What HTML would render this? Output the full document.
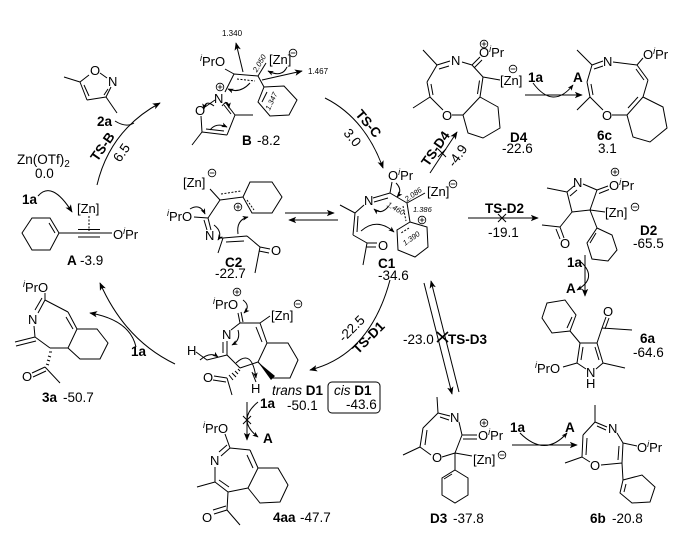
<!DOCTYPE html>
<html><head><meta charset="utf-8">
<style>
html,body{margin:0;padding:0;background:#fff;}
svg{display:block;}
text{font-family:"Liberation Sans",Arial,sans-serif;fill:#000;}
.a{font-size:13px;}
.l{font-size:13.5px;}
.b{font-size:13.5px;font-weight:bold;}
.s{font-size:8px;}
.si{font-size:7.5px;font-style:italic;}
.it{font-style:italic;}
</style></head><body>
<svg width="686" height="542" viewBox="0 0 686 542" xmlns="http://www.w3.org/2000/svg">
<defs>
<marker id="ah" viewBox="0 0 10 10" refX="9" refY="5" markerWidth="8" markerHeight="8" orient="auto" markerUnits="userSpaceOnUse"><path d="M0,1 L10,5 L0,9 L2.5,5z" fill="#000"/></marker>
<marker id="sm" viewBox="0 0 10 10" refX="9" refY="5" markerWidth="6" markerHeight="6" orient="auto" markerUnits="userSpaceOnUse"><path d="M0,1 L10,5 L0,9 L2.5,5z" fill="#000"/></marker>
<g id="pl"><circle r="3.8" fill="#fff" stroke="#000" stroke-width="0.8"/><path d="M-2.4,0H2.4M0,-2.4V2.4" stroke="#000" stroke-width="0.8"/></g>
<g id="mi"><circle r="3.8" fill="#fff" stroke="#000" stroke-width="0.8"/><path d="M-2.4,0H2.4" stroke="#000" stroke-width="0.8"/></g>
</defs>
<rect width="686" height="542" fill="#fff"/>

<g fill="none" stroke="#000" stroke-width="1">
<!-- 2a -->
<path d="M80,82 L89,75 M100,73 L107,78 M111,87 L106,97 M108,89 L104,95 M106,97 L87,100 M87,100 L80,82 M89,96 L84,85 M80,82 L64,77 M106,97 L117,113"/>
<path d="M115,121 Q126,128 134,123"/>
<path d="M97,185 Q110,130 160,103" marker-end="url(#ah)"/>
<!-- A -->
<path d="M38,196 Q52,180 72,212" marker-end="url(#ah)"/>
<path d="M89,216 L89,231" stroke-dasharray="2,1.5"/>
<path d="M22,233 L32,218 L50,218 L59,233 L50,250 L32,250 Z M49,223 L55,233 M59,233 L112,233 M78,229.5 L100,229.5 M78,237 L100,237"/>
<!-- 3a -->
<path d="M45,293 L45,300 M45,300 L38,313 M42,298 L35,310 M45,300 L68,312 M68,312 L77,329 M66,317 L73,329 M34,326 L35,337 M35,337 L15,342 M36,341 L16,346 M35,337 L50,348 M50,348 L68,348 M77,329 L97,329 L108,343 L100,359 L80,359 L68,348 L77,329 M45,367 L32,373 M46,371 L33,377 M45,367 L60,383"/>
<path d="M49,352 L52,352 M48,356 L51,357 M47,360 L50,361 M46,364 L49,365" stroke-width="1"/>
<path d="M175,364 Q125,340 100,283" marker-end="url(#ah)"/>
<path d="M136,347 Q130,320 90,313" marker-end="url(#ah)"/>
<!-- B -->
<path d="M243,72 L236,43" marker-end="url(#ah)"/>
<path d="M225,69 L234,74 M234,74 L258,76 M258,76 L266,63 M234,74 L225,92 M215,100 L205,107 M201,116 L202,132 M202,132 L227,135 M206,129 L224,131 M227,135 L235,115 M235,115 L225,102 M231,114 L224,105 M235,115 L253,115 M202,132 L192,145 M258,76 L264,87"/>
<path d="M237,79 L255,81" stroke-dasharray="2,1.5"/>
<path d="M262,80 L302,71" marker-end="url(#ah)"/>
<path d="M264,87 L284,86 L297,100 L289,115 L270,116 L258,102 Z M267,92 L262,102"/>
<path d="M287,67 Q282,78 268,71" marker-end="url(#sm)"/>
<path d="M250,83 Q240,94 228,89" marker-end="url(#sm)"/>
<path d="M214,106 Q205,99 204,109" marker-end="url(#sm)"/>
<path d="M210,130 Q216,122 227,127" marker-end="url(#sm)"/>
<path d="M222,106 Q228,98 229,108" marker-end="url(#sm)"/>
<!-- TS-C -->
<path d="M325,98 Q365,118 383,168" marker-end="url(#ah)"/>
<!-- D4 -->
<path d="M462,62 L472,65 M472,65 L480,57 M474.5,67.5 L482,60 M472,65 L483,77 M483,77 L500,80 M483,77 L480,97 M479.5,80.5 L477.5,94 M480,97 L463,115 M463,115 L452,115 M443,110 L430,97 M430,97 L413,108 M430,97 L427,82 M433,95 L431,84 M427,82 L437,65 M437,65 L450,61 M439,69 L449,66 M437,65 L423,50 M480,97 L498,107 L500,128 L483,138 L468,133 L463,115"/>
<path d="M525,95 L582,95" marker-end="url(#ah)"/>
<path d="M533,83 Q553,110 573,85" marker-end="url(#sm)"/>
<!-- 6c -->
<path d="M577,50 L592,65 M592,65 L603,61 M594,69 L603,66 M613,62 L637,65 M637,65 L643,58 M637,65 L648,80 M636,69 L644,80 M648,80 L643,97 M643,97 L627,115 M638,97 L628,108 M627,115 L612,115 M603,110 L590,97 M590,97 L577,110 M590,97 L587,82 M593,95 L591,84 M587,82 L592,65 M643,97 L663,107 L667,128 L650,142 L633,137 L627,115"/>
<!-- TS-D4 -->
<path d="M430,173 L457,132" marker-end="url(#ah)"/>
<path d="M438,149 L446,157 M446,149 L438,157"/>
<!-- C2 -->
<path d="M210,189 L220,200 M194,217 L208,218 M208,218 L220,200 M220,200 L243,197 M243,197 L250,182 L272,182 L282,197 L272,213 L252,213 Z M208,218 L211,230 M204,220 L207,230 M218,238 L223,238 M223,238 L218,253 M223,238 L247,236 M226,242 L244,241 M247,236 L260,247 M260,247 L270,249 M259,251 L269,253 M260,247 L255,273"/>
<path d="M221,194 L241,191 M247,200 L254,210" stroke-dasharray="2,1.5"/>
<path d="M190,209 Q200,203 205,214" marker-end="url(#sm)"/>
<path d="M214,225 Q223,232 218,240" marker-end="url(#sm)"/>
<path d="M238,234 Q236,220 248,217" marker-end="url(#sm)"/>
<path d="M285,213 L334,213" marker-end="url(#ah)"/>
<path d="M338,220 L289,220" marker-end="url(#ah)"/>
<!-- C1 -->
<path d="M392,182 L390,193 M373,198 L390,193 M374,202 L388,198 M390,193 L407,203 M407,203 L425,193 M407,203 L410,222 M410,222 L427,227 L428,247 L415,257 L398,250 L397,230 Z M364,205 L355,213 M340,205 L355,213 M355,213 L353,235 M358,216 L357,232 M353,235 L367,243 M367,243 L377,243 M366,247 L376,247 M367,243 L363,265"/>
<path d="M403,206 L406,221 M409,228 L401,233" stroke-dasharray="2,1.5"/>
<path d="M396,183 Q403,190 397,197" marker-end="url(#sm)"/>
<path d="M388,207 Q381,215 374,209" marker-end="url(#sm)"/>
<path d="M361,231 Q377,217 394,232" marker-end="url(#sm)"/>
<!-- TS-D2 -->
<path d="M468,218 L538,218" marker-end="url(#ah)"/>
<path d="M498,214 L506,222 M506,214 L498,222"/>
<!-- D2 -->
<path d="M567,192 L547,188 M567,192 L574,186 M570,196 L577,190 M583,184 L597,190 M597,190 L608,186 M599,193.5 L609,189.5 M597,190 L590,210 M590,210 L572,212 M572,212 L567,192 M590,210 L605,212 M572,212 L560,227 M560,227 L542,225 M560,227 L564,238 M556,229 L560,239 M590,210 L597,228 M597,228 L612,235 L617,250 L608,261 L592,259 L587,243 Z M596,233 L590,243"/>
<path d="M585,255 L585,296" marker-end="url(#ah)"/>
<path d="M581,262 Q598,278 577,290" marker-end="url(#sm)"/>
<!-- 6a -->
<path d="M547,303 L565,300 L576,315 L570,331 L552,333 L542,318 Z M572,317 L567,328 M570,331 L580,343 M580,343 L597,343 M597,343 L603,363 M603,363 L596,369 M586,369 L577,363 M577,363 L580,343 M583,347 L581,360 M595,347 L599,360 M597,343 L602,328 M602,328 L606,317 M605,329 L609,318 M602,328 L632,330 M603,363 L625,368 M563,367 L577,363"/>
<!-- D1 -->
<path d="M240,323 L238,313 M243,322 L241,312 M240,323 L231,330 M227,341 L227,355 M223,342 L223,353 M240,323 L260,323 M260,323 L270,316 M260,323 L267,343 M256,327 L262,342 M267,343 L288,343 L298,360 L290,378 L273,378 L258,362 Z M227,355 L240,368 M240,368 L258,362 M227,378 L214,376 M226,382 L213,380 M227,378 L232,395 M196,352 L207,360 L227,355 M252,372 L256,382"/>
<polygon points="258,362 271,380 275,376" fill="#000" stroke="none"/>
<path d="M238,369 L240,371 M235,371 L238,374 M232,373 L236,377 M229,375 L233,380"/>
<path d="M243,300 Q251,306 244,313" marker-end="url(#sm)"/>
<path d="M238,330 Q241,340 232,345" marker-end="url(#sm)"/>
<path d="M200,360 Q210,351 218,357" marker-end="url(#sm)"/>
<path d="M236,363 Q252,348 256,378" marker-end="url(#sm)"/>
<rect x="328" y="382" width="52" height="31" rx="4"/>
<!-- TS-D1 -->
<path d="M390,280 Q370,355 310,370" marker-end="url(#ah)"/>
<!-- C1 <-> D3 -->
<path d="M424,283 L452,394" marker-end="url(#ah)"/>
<path d="M459,392 L431,281" marker-end="url(#ah)"/>
<path d="M437,332 L448,342 M448,332 L437,342" stroke-width="1.6"/>
<!-- D3 -->
<path d="M437,397 L438,413 M438,413 L450,416 M440,417 L449,420 M438,413 L423,428 M423,428 L420,447 M427,430 L425,445 M420,447 L403,455 M420,447 L431,455 M442,457 L455,453 M455,453 L462,435 M459,422 L462,435 M462,435 L477,435 M463,439 L477,439 M455,453 L472,456 M455,453 L455,470 M455,470 L468,478 L468,495 L455,503 L442,495 L442,478 Z M452,474 L444,479"/>
<path d="M512,445 L577,445" marker-end="url(#ah)"/>
<path d="M520,433 Q545,458 567,433" marker-end="url(#sm)"/>
<!-- 6b -->
<path d="M595,405 L595,422 M595,422 L607,427 M597,426 L606,430 M617,433 L623,443 M623,443 L637,446 M623,443 L622,463 M619,446 L618,460 M622,463 L601,465 M590,462 L582,457 M582,457 L565,463 M582,457 L583,435 M586,455 L587,438 M583,435 L595,422 M622,463 L623,480 M623,480 L642,475 L655,487 L650,502 L632,503 L620,493 Z M626,484 L624,492"/>
<!-- 4aa -->
<path d="M247,402 L247,440" marker-end="url(#ah)"/>
<path d="M243,416 L251,424 M251,416 L243,424"/>
<path d="M258,402 Q236,420 258,437" marker-end="url(#sm)"/>
<path d="M225,434 L230,448 M230,448 L221,456 M227,445 L219,452 M215,467 L215,482 M215,482 L197,487 M215,482 L228,492 M219,480 L229,487 M230,448 L250,450 M250,450 L258,468 M247,455 L253,468 M258,468 L248,488 M248,488 L228,492 M258,468 L278,468 L288,485 L280,502 L260,503 L248,488 M228,492 L227,510 M227,510 L214,514 M226,506 L213,510 M227,510 L240,525"/>
</g>

<!-- charges -->
<use href="#mi" x="293" y="53"/>
<use href="#pl" x="220" y="87"/>
<use href="#pl" x="484" y="44"/>
<use href="#mi" x="513" y="69"/>
<use href="#mi" x="212" y="173"/>
<use href="#pl" x="238" y="207"/>
<use href="#mi" x="453" y="184"/>
<use href="#pl" x="422" y="220"/>
<use href="#pl" x="615" y="172"/>
<use href="#mi" x="635" y="207"/>
<use href="#pl" x="237" y="292"/>
<use href="#mi" x="298" y="304"/>
<use href="#pl" x="484" y="423"/>
<use href="#mi" x="502" y="455"/>

<!-- texts -->
<text class="a" x="90" y="75">O</text>
<text class="a" x="108" y="86">N</text>
<text class="b" x="97" y="126">2a</text>
<text class="b" text-anchor="middle" transform="rotate(-55 103 147)" x="103" y="151">TS-B</text>
<text class="l" text-anchor="middle" transform="rotate(-55 122 153)" x="122" y="157">6.5</text>
<text class="l" x="17" y="164">Zn(OTf)<tspan font-size="10" dy="3">2</tspan></text>
<text class="l" x="35" y="178">0.0</text>
<text class="b" x="22" y="204">1a</text>
<text class="a" x="77" y="213">[Zn]</text>
<text class="a" x="113" y="239">O<tspan font-size="9" font-style="italic" dy="-5">i</tspan><tspan dy="5">Pr</tspan></text>
<text class="b" x="67" y="265">A</text><text class="l" x="80" y="265">-3.9</text>

<text class="a" x="23" y="292"><tspan font-size="9" font-style="italic" dy="-5">i</tspan><tspan dy="5">PrO</tspan></text>
<text class="a" x="28" y="324">N</text>
<text class="a" x="22" y="381">O</text>
<text class="b" x="42" y="402">3a</text><text class="l" x="63" y="402">-50.7</text>
<text class="b" x="131" y="356">1a</text>

<text class="s" x="222" y="36">1.340</text>
<text class="a" x="200" y="66"><tspan font-size="9" font-style="italic" dy="-5">i</tspan><tspan dy="5">PrO</tspan></text>
<text class="si" text-anchor="middle" transform="rotate(-60 259 63)" x="259" y="66">2.050</text>
<text class="a" x="269" y="64">[Zn]</text>
<text class="s" x="308" y="74">1.467</text>
<text class="a" x="214" y="103">N</text>
<text class="a" x="195" y="115">O</text>
<text class="si" text-anchor="middle" transform="rotate(-65 271 101)" x="271" y="104">1.347</text>
<text class="b" x="242" y="145">B</text><text class="l" x="257" y="145">-8.2</text>
<text class="b" text-anchor="middle" transform="rotate(50 368 124)" x="368" y="128">TS-C</text>
<text class="l" text-anchor="middle" transform="rotate(50 352 138)" x="352" y="142">3.0</text>

<text class="a" x="479" y="57">O<tspan font-size="9" font-style="italic" dy="-5">i</tspan><tspan dy="5">Pr</tspan></text>
<text class="a" x="451" y="65">N</text>
<text class="a" x="442" y="120">O</text>
<text class="a" x="500" y="85">[Zn]</text>
<text class="b" x="510" y="142">D4</text><text class="l" x="502" y="153">-22.6</text>
<text class="b" x="528" y="82">1a</text><text class="b" x="573" y="82">A</text>
<text class="a" x="643" y="59">O<tspan font-size="9" font-style="italic" dy="-5">i</tspan><tspan dy="5">Pr</tspan></text>
<text class="a" x="603" y="66">N</text>
<text class="a" x="602" y="120">O</text>
<text class="b" x="597" y="140">6c</text><text class="l" x="598" y="153">3.1</text>
<text class="b" text-anchor="middle" transform="rotate(-55 436 149)" x="436" y="153">TS-D4</text>
<text class="l" text-anchor="middle" transform="rotate(-55 458 156)" x="458" y="160">-4.9</text>

<text class="a" x="183" y="187">[Zn]</text>
<text class="a" x="167" y="221"><tspan font-size="9" font-style="italic" dy="-5">i</tspan><tspan dy="5">PrO</tspan></text>
<text class="a" x="205" y="240">N</text>
<text class="a" x="271" y="255">O</text>
<text class="b" x="225" y="267">C2</text><text class="l" x="215" y="278">-22.7</text>

<text class="a" x="388" y="180">O<tspan font-size="9" font-style="italic" dy="-5">i</tspan><tspan dy="5">Pr</tspan></text>
<text class="a" x="364" y="205">N</text>
<text class="a" x="427" y="196">[Zn]</text>
<text class="si" text-anchor="middle" transform="rotate(-35 413 194)" x="413" y="197">2.086</text>
<text class="si" text-anchor="middle" transform="rotate(30 396 208)" x="396" y="211">1.460</text>
<text class="si" x="413" y="212">1.386</text>
<text class="si" text-anchor="middle" transform="rotate(-35 411 238)" x="411" y="241">1.390</text>
<text class="a" x="378" y="250">O</text>
<text class="b" x="378" y="268">C1</text><text class="l" x="378" y="280">-34.6</text>

<text class="b" x="485" y="213">TS-D2</text><text class="l" x="488" y="237">-19.1</text>
<text class="a" x="609" y="190">O<tspan font-size="9" font-style="italic" dy="-5">i</tspan><tspan dy="5">Pr</tspan></text>
<text class="a" x="573" y="187">N</text>
<text class="a" x="605" y="217">[Zn]</text>
<text class="a" x="560" y="248">O</text>
<text class="b" x="640" y="235">D2</text><text class="l" x="633" y="248">-65.5</text>
<text class="b" x="567" y="267">1a</text><text class="b" x="566" y="293">A</text>

<text class="a" x="603" y="316">O</text>
<text class="a" x="535" y="373"><tspan font-size="9" font-style="italic" dy="-5">i</tspan><tspan dy="5">PrO</tspan></text>
<text class="a" x="586" y="377">N</text>
<text class="a" x="586" y="388">H</text>
<text class="b" x="640" y="343">6a</text><text class="l" x="633" y="357">-64.6</text>

<text class="a" x="213" y="309"><tspan font-size="9" font-style="italic" dy="-5">i</tspan><tspan dy="5">PrO</tspan></text>
<text class="a" x="222" y="339">N</text>
<text class="a" x="271" y="320">[Zn]</text>
<text class="a" x="187" y="355">H</text>
<text class="a" x="203" y="382">O</text>
<text class="a" x="251" y="393">H</text>
<text class="l" x="272" y="395"><tspan class="it">trans</tspan> <tspan font-weight="bold">D1</tspan></text>
<text class="l" x="287" y="410">-50.1</text>
<text class="l" x="334" y="395"><tspan class="it">cis</tspan> <tspan font-weight="bold">D1</tspan></text>
<text class="l" x="346" y="409">-43.6</text>
<text class="l" text-anchor="middle" transform="rotate(-45 352 329)" x="352" y="333">-22.5</text>
<text class="b" text-anchor="middle" transform="rotate(-45 369 338)" x="369" y="342">TS-D1</text>

<text class="l" x="403" y="344">-23.0</text><text class="b" x="448" y="344">TS-D3</text>
<text class="a" x="450" y="422">N</text>
<text class="a" x="478" y="440">O<tspan font-size="9" font-style="italic" dy="-5">i</tspan><tspan dy="5">Pr</tspan></text>
<text class="a" x="432" y="462">O</text>
<text class="a" x="473" y="464">[Zn]</text>
<text class="b" x="430" y="523">D3</text><text class="l" x="453" y="523">-37.8</text>
<text class="b" x="510" y="432">1a</text><text class="b" x="565" y="432">A</text>
<text class="a" x="608" y="433">N</text>
<text class="a" x="637" y="452">O<tspan font-size="9" font-style="italic" dy="-5">i</tspan><tspan dy="5">Pr</tspan></text>
<text class="a" x="590" y="470">O</text>
<text class="b" x="590" y="523">6b</text><text class="l" x="612" y="523">-20.8</text>

<text class="b" x="260" y="408">1a</text><text class="b" x="263" y="443">A</text>
<text class="a" x="203" y="433"><tspan font-size="9" font-style="italic" dy="-5">i</tspan><tspan dy="5">PrO</tspan></text>
<text class="a" x="210" y="465">N</text>
<text class="a" x="202" y="522">O</text>
<text class="b" x="273" y="522">4aa</text><text class="l" x="300" y="522">-47.7</text>
</svg>
</body></html>
